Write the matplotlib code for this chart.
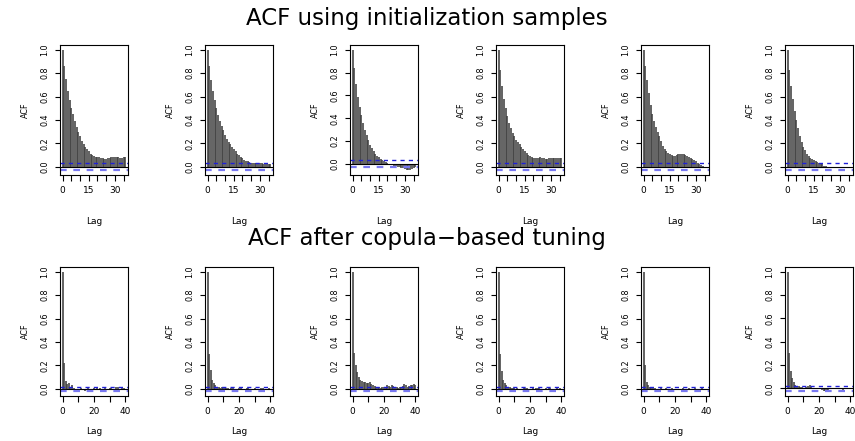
import numpy as np
import matplotlib
matplotlib.use("Agg")
import matplotlib.pyplot as plt

plt.rcParams['font.family'] = ['DejaVu Sans']

# ---------------- data ----------------
title_top = "ACF using initialization samples"
title_bottom = "ACF after copula\u2212based tuning"
x_label = "Lag"
y_label = "ACF"

lags_top = list(range(0, 37))
lags_bottom = list(range(0, 41))
ci_top = 0.03
ci_bottom = 0.02

acf_top_1 = [1.0, 0.86, 0.75, 0.65, 0.57, 0.50, 0.45, 0.39, 0.34, 0.30, 0.26, 0.22, 0.19, 0.17,
             0.15, 0.13, 0.11, 0.10, 0.09, 0.085, 0.08, 0.08, 0.075, 0.07, 0.065, 0.065, 0.07,
             0.075, 0.08, 0.085, 0.085, 0.08, 0.08, 0.075, 0.075, 0.08, 0.08]
acf_top_2 = [1.0, 0.86, 0.74, 0.65, 0.57, 0.50, 0.44, 0.39, 0.35, 0.31, 0.27, 0.24, 0.21, 0.19,
             0.17, 0.15, 0.13, 0.11, 0.10, 0.085, 0.07, 0.06, 0.05, 0.045, 0.04, 0.035, 0.035,
             0.03, 0.03, 0.03, 0.035, 0.03, 0.025, 0.02, 0.02, 0.025, 0.02]
acf_top_3 = [1.0, 0.84, 0.70, 0.59, 0.50, 0.43, 0.36, 0.30, 0.25, 0.21, 0.17, 0.14, 0.11, 0.09,
             0.07, 0.06, 0.045, 0.035, 0.025, 0.015, 0.01, 0.0, -0.005, -0.01, -0.015, -0.02,
             -0.025, -0.03, -0.035, -0.04, -0.045, -0.05, -0.055, -0.05, -0.045, -0.04, -0.03]
acf_top_4 = [1.0, 0.83, 0.69, 0.58, 0.50, 0.43, 0.37, 0.33, 0.29, 0.26, 0.23, 0.21, 0.19, 0.17,
             0.15, 0.13, 0.12, 0.10, 0.09, 0.08, 0.075, 0.07, 0.07, 0.075, 0.08, 0.075, 0.07,
             0.065, 0.065, 0.07, 0.07, 0.07, 0.075, 0.075, 0.075, 0.07, 0.07]
acf_top_5 = [1.0, 0.86, 0.74, 0.63, 0.53, 0.45, 0.39, 0.34, 0.30, 0.26, 0.22, 0.18, 0.15, 0.13,
             0.12, 0.11, 0.10, 0.095, 0.095, 0.10, 0.105, 0.11, 0.11, 0.105, 0.10, 0.09, 0.08,
             0.075, 0.065, 0.055, 0.045, 0.035, 0.025, 0.015, 0.005, 0.0, -0.005]
acf_top_6 = [1.0, 0.83, 0.69, 0.58, 0.48, 0.40, 0.33, 0.26, 0.21, 0.17, 0.14, 0.11, 0.09, 0.075,
             0.065, 0.055, 0.045, 0.04, 0.035, 0.025, 0.02, 0.01, 0.005, 0.0, -0.005, -0.01,
             -0.01, -0.005, -0.005, 0.0, -0.005, -0.005, 0.0, 0.0, -0.005, 0.0, 0.0]

acf_bot_1 = [1.0, 0.22, 0.07, 0.04, 0.05, 0.02, 0.03, 0.01, -0.01, -0.02, 0.0, -0.01, 0.01,
             -0.01, -0.02, -0.01, 0.01, -0.015, -0.02, -0.01, 0.005, -0.01, 0.01, -0.01, 0.005,
             0.0, -0.005, 0.01, 0.0, -0.005, 0.005, 0.01, -0.005, 0.0, 0.015, 0.02, 0.0,
             -0.005, 0.01, 0.005, 0.0]
acf_bot_2 = [1.0, 0.30, 0.16, 0.08, 0.05, 0.03, 0.02, 0.02, 0.01, 0.015, 0.01, 0.005, 0.01,
             0.005, 0.0, 0.01, 0.005, 0.0, -0.005, 0.0, 0.005, 0.01, 0.0, -0.005, 0.0, 0.005,
             0.01, 0.0, -0.005, 0.0, 0.005, 0.0, -0.005, 0.0, 0.005, 0.01, 0.0, -0.005, 0.0,
             0.005, 0.0]
acf_bot_3 = [1.0, 0.31, 0.20, 0.14, 0.10, 0.08, 0.07, 0.06, 0.055, 0.05, 0.05, 0.06, 0.04,
             0.03, 0.025, 0.02, 0.015, 0.02, 0.01, 0.015, 0.02, 0.02, 0.03, 0.025, 0.02, 0.03,
             0.025, 0.02, 0.015, 0.01, 0.015, 0.02, 0.025, 0.04, 0.03, 0.02, 0.025, 0.03, 0.035,
             0.04, 0.03]
acf_bot_4 = [1.0, 0.30, 0.15, 0.08, 0.05, 0.03, 0.02, 0.015, 0.01, 0.005, 0.01, 0.0, 0.005,
             0.0, -0.005, 0.0, 0.005, 0.01, 0.005, 0.0, -0.005, 0.0, 0.005, 0.0, 0.005, 0.01,
             0.005, 0.0, -0.005, 0.0, 0.005, 0.0, 0.005, 0.01, 0.0, -0.005, 0.0, 0.005, 0.0,
             0.005, 0.0]
acf_bot_5 = [1.0, 0.20, 0.06, 0.03, 0.02, 0.01, 0.005, 0.01, 0.0, -0.005, 0.0, 0.005, 0.0,
             -0.005, 0.005, 0.0, -0.005, 0.0, 0.005, 0.0, -0.01, -0.005, -0.01, -0.005, 0.0,
             0.005, 0.0, -0.005, 0.0, 0.005, 0.0, -0.005, 0.0, 0.005, 0.0, -0.005, 0.0, 0.005,
             0.0, 0.0, 0.0]
acf_bot_6 = [1.0, 0.30, 0.15, 0.09, 0.05, 0.03, 0.02, 0.02, 0.015, 0.01, 0.005, 0.0, 0.01,
             0.02, 0.03, 0.015, 0.005, 0.0, -0.005, -0.01, -0.005, -0.01, -0.015, -0.02, -0.02,
             -0.025, -0.015, -0.01, -0.005, -0.01, 0.0, -0.01, -0.005, 0.0, -0.01, -0.015,
             -0.005, -0.01, -0.005, 0.0, -0.01]

top_series = [acf_top_1, acf_top_2, acf_top_3, acf_top_4, acf_top_5, acf_top_6]
bottom_series = [acf_bot_1, acf_bot_2, acf_bot_3, acf_bot_4, acf_bot_5, acf_bot_6]

y_ticks = [0.0, 0.2, 0.4, 0.6, 0.8, 1.0]
x_ticks_top = [0, 5, 10, 15, 20, 25, 30, 35]
x_labels_top = ["0", "", "", "15", "", "", "30", ""]
x_ticks_bottom = [0, 10, 20, 30, 40]
x_labels_bottom = ["0", "", "20", "", "40"]

# ---------------- layout (pixels) ----------------
W, H = 855, 441
fig = plt.figure(figsize=(W / 100, H / 100), dpi=100)

lefts = [60, 205, 350, 496, 641, 785]
pw = 68
# (box top, box bottom, xlabel centre y)
rows = [(45, 175, 222), (267, 396, 432)]


def draw_panel(left, top, bottom, lab_y, lags, acf, ci, xticks, xlabels):
    ax = fig.add_axes([left / W, 1 - bottom / H, pw / W, (bottom - top) / H])
    lags = np.asarray(lags)
    acf = np.asarray(acf)
    ax.vlines(lags, 0, acf, color="#404040", lw=1.15)
    ax.axhline(0, color="black", lw=0.8)
    ax.axhline(ci, color="#1f1fd8", lw=1.0, ls=(0, (3, 3)))
    ax.axhline(-ci, color="#7878f0", lw=1.6, ls=(0, (3, 3)))
    L = lags.max()
    ax.set_xlim(-0.04 * L, 1.04 * L)
    ymin = min(acf.min(), -ci)
    ymax = 1.0
    r = ymax - ymin
    ax.set_ylim(ymin - 0.04 * r, ymax + 0.04 * r)
    ax.set_xticks(xticks)
    ax.set_xticklabels(xlabels, fontsize=6.5)
    ax.set_yticks(y_ticks)
    ax.set_yticklabels([f"{v:.1f}" for v in y_ticks], fontsize=5.8, rotation=90, va="center")
    ax.tick_params(axis="x", length=4, width=0.8, pad=4)
    ax.tick_params(axis="y", length=3.5, width=0.8, pad=4)
    for s in ax.spines.values():
        s.set_linewidth(0.8)
    ax.set_xlabel(x_label, fontsize=6.5, va="center")
    ax.xaxis.set_label_coords(0.5, (bottom - lab_y) / (bottom - top))
    ax.set_ylabel(y_label, fontsize=5.8, va="center")
    ax.yaxis.set_label_coords(-35 / pw, 0.5)
    return ax


for i, acf in enumerate(top_series):
    draw_panel(lefts[i], *rows[0], lags_top, acf, ci_top, x_ticks_top, x_labels_top)
for i, acf in enumerate(bottom_series):
    draw_panel(lefts[i], *rows[1], lags_bottom, acf, ci_bottom,
               x_ticks_bottom, x_labels_bottom)

fig.text(427 / W, 1 - 18 / H, title_top, ha="center", va="center", fontsize=16.5)
fig.text(427 / W, 1 - 238 / H, title_bottom, ha="center", va="center", fontsize=16.5)

fig.savefig("out.png", dpi=100)
